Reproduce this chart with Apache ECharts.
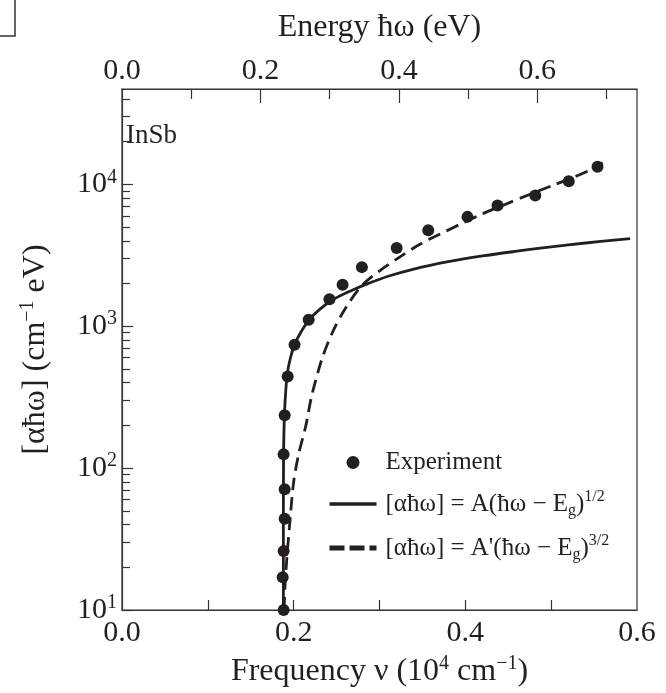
<!DOCTYPE html>
<html>
<head>
<meta charset="utf-8">
<script src="https://cdn.jsdelivr.net/npm/echarts@6/dist/echarts.min.js"></script>
<style>html,body{margin:0;padding:0;background:#fff;}#c{width:666px;height:693px;}</style>
</head>
<body>
<div id="c"></div>
<script>
// ---- data ----
const expFreq = [0.1883, 0.1872, 0.1883, 0.1895, 0.1895, 0.1883, 0.1895, 0.1930, 0.2010, 0.2175, 0.2417, 0.2570, 0.2795, 0.3200, 0.3568, 0.4025, 0.4375, 0.4815, 0.5205, 0.5540];
const expVal  = [10, 17, 26, 44, 71, 125, 236, 442, 740, 1110, 1550, 1960, 2610, 3560, 4750, 5900, 7100, 8350, 10500, 13300];

const solidFreq = [0.1880, 0.1880, 0.1881, 0.1883, 0.1886, 0.1893, 0.1905, 0.1925, 0.1960, 0.2010, 0.2080, 0.2180, 0.2300, 0.2450, 0.2650, 0.2850, 0.3100, 0.3400, 0.3800, 0.4200, 0.4600, 0.5000, 0.5400, 0.5700, 0.5920];
const solidVal  = [10, 40, 80, 130, 170, 240, 330, 460, 590, 740, 900, 1110, 1310, 1530, 1760, 1980, 2250, 2530, 2850, 3130, 3380, 3630, 3860, 4030, 4150];

const dashFreq = [0.1888, 0.1900, 0.1920, 0.1950, 0.2000, 0.2060, 0.2140, 0.2210, 0.2330, 0.2450, 0.2600, 0.2800, 0.3010, 0.3230, 0.3460, 0.3700, 0.3930, 0.4200, 0.4470, 0.4740, 0.5020, 0.5290, 0.5500, 0.5600];
const dashVal  = [10, 15, 23, 38, 80, 127, 197, 323, 590, 900, 1330, 1950, 2480, 3060, 3750, 4450, 5200, 6200, 7250, 8450, 9850, 11400, 13000, 14200];

const xTickLabels = [0.0, 0.2, 0.4, 0.6];
const xTicks = [0.1, 0.2, 0.3, 0.4, 0.5];
const eTickLabels = [0.0, 0.2, 0.4, 0.6];
const eMajorTicks = [0.2, 0.4, 0.6];
const eMinorTicks = [0.1, 0.3, 0.5, 0.7];
const yMajor = [10, 100, 1000, 10000];
const yMinor = [20,30,40,50,60,70,80,90,200,300,400,500,600,700,800,900,2000,3000,4000,5000,6000,7000,8000,9000,20000,30000,40000];

const FREQ_MAX = 0.6;
const E_MAX = 0.744;   // 0.6e4 cm^-1 expressed in eV
const Y_MIN = 10, Y_MAX = 47000;

const FONT = 'Liberation Serif';
const INK = '#231f20';
const AX = '#333';
const TICK_FS = 30, TITLE_FS = 32, SUP_FS = 20, LEG_FS = 25, LEG_SUP = 16;

const chart = echarts.init(document.getElementById('c'), null, {renderer: 'canvas'});

const pair = (xs, ys) => xs.map((x, i) => [x, ys[i]]);

const legendText = {
  'Experiment': '{t|Experiment}',
  'half': '{t|[αħω] = A(ħω − E}{sub|g}{t|)}{sup|1/2}',
  'threehalf': '{t|[αħω] = A\'(ħω − E}{sub|g}{t|)}{sup|3/2}'
};

const titleRich = {
  t: {fontFamily: FONT, fontSize: TITLE_FS, color: INK, lineHeight: 36},
  sup: {fontFamily: FONT, fontSize: SUP_FS, color: INK, verticalAlign: 'top', lineHeight: 20}
};

const option = {
  backgroundColor: '#fff',
  animation: false,
  textStyle: {fontFamily: FONT},
  grid: {left: 122, right: 29, top: 89, bottom: 83, show: true, borderColor: AX, borderWidth: 1.2, backgroundColor: 'transparent'},
  title: {
    text: 'InSb', left: 121, top: 117,
    textStyle: {fontFamily: FONT, fontSize: 27, fontWeight: 'normal', color: INK}
  },
  graphic: [{
    type: 'polyline', shape: {points: [[0, 36], [15, 36], [15, 0]]},
    style: {stroke: AX, lineWidth: 1.5, fill: null}
  }],
  legend: {
    orient: 'vertical', left: 327, top: 450, padding: 0,
    itemWidth: 47, itemHeight: 13, itemGap: 14,
    data: [
      {name: 'Experiment', icon: 'circle', itemStyle: {color: INK, opacity: 1}},
      {name: 'half', itemStyle: {opacity: 0}, lineStyle: {width: 3.5, type: 'solid', color: INK}},
      {name: 'threehalf', itemStyle: {opacity: 0}, lineStyle: {width: 5, type: [15, 5], color: INK}}
    ],
    formatter: n => legendText[n],
    textStyle: {
      fontFamily: FONT, fontSize: LEG_FS, color: INK, padding: [0, 0, 0, 4],
      rich: {
        t: {fontFamily: FONT, fontSize: LEG_FS, color: INK, lineHeight: 30},
        sup: {fontFamily: FONT, fontSize: LEG_SUP, color: INK, verticalAlign: 'top', lineHeight: 17},
        sub: {fontFamily: FONT, fontSize: LEG_SUP, color: INK, verticalAlign: 'bottom', lineHeight: 15}
      }
    }
  },
  xAxis: [
    {
      type: 'value', position: 'bottom', min: 0, max: FREQ_MAX, interval: 0.1,
      axisLine: {show: true, lineStyle: {color: AX, width: 1.2}},
      axisTick: {show: true, inside: true, length: 10, customValues: xTicks, lineStyle: {color: AX, width: 1.2}},
      axisLabel: {customValues: xTickLabels, formatter: v => v.toFixed(1), fontFamily: FONT, fontSize: TICK_FS, color: INK, margin: 8},
      splitLine: {show: false},
      name: '{t|Frequency ν (10}{sup|4}{t| cm}{sup|−1}{t|)}',
      nameLocation: 'middle', nameGap: 44,
      nameTextStyle: {rich: titleRich}
    },
    {
      type: 'value', position: 'top', min: 0, max: E_MAX,
      axisLine: {show: true, lineStyle: {color: AX, width: 1.2}},
      axisTick: {show: true, inside: true, length: 14, customValues: eMajorTicks, lineStyle: {color: AX, width: 1.2}},
      axisLabel: {customValues: eTickLabels, formatter: v => v.toFixed(1), fontFamily: FONT, fontSize: TICK_FS, color: INK, margin: 3},
      splitLine: {show: false},
      name: 'Energy ħω (eV)', nameLocation: 'middle', nameGap: 45,
      nameTextStyle: {fontFamily: FONT, fontSize: TITLE_FS, color: INK}
    },
    {
      type: 'value', position: 'top', min: 0, max: E_MAX,
      axisLine: {show: false},
      axisTick: {show: true, inside: true, length: 10, customValues: eMinorTicks, lineStyle: {color: AX, width: 1.2}},
      axisLabel: {show: false},
      splitLine: {show: false}
    }
  ],
  yAxis: [
    {
      type: 'log', logBase: 10, min: Y_MIN, max: Y_MAX, position: 'left',
      axisLine: {show: true, lineStyle: {color: AX, width: 1.2}},
      axisTick: {show: true, inside: true, length: 11, customValues: yMajor, lineStyle: {color: AX, width: 1.2}},
      axisLabel: {
        customValues: yMajor, margin: 5,
        formatter: v => '{b|10}{s|' + Math.round(Math.log10(v)) + '}',
        rich: {
          b: {fontFamily: FONT, fontSize: TICK_FS, color: INK, lineHeight: 34},
          s: {fontFamily: FONT, fontSize: SUP_FS, color: INK, verticalAlign: 'top', lineHeight: 20}
        }
      },
      splitLine: {show: false},
      name: '{t|[αħω] (cm}{sup|−1}{t| eV)}', nameLocation: 'middle', nameGap: 68, nameRotate: 90,
      nameTextStyle: {rich: titleRich}
    },
    {
      type: 'log', logBase: 10, min: Y_MIN, max: Y_MAX, position: 'left',
      axisLine: {show: false},
      axisTick: {show: true, inside: true, length: 8, customValues: yMinor, lineStyle: {color: AX, width: 1.2}},
      axisLabel: {show: false},
      splitLine: {show: false}
    }
  ],
  series: [
    {
      name: 'half', type: 'line', xAxisIndex: 0, yAxisIndex: 0,
      data: pair(solidFreq, solidVal), smooth: 0.3, symbol: 'none',
      itemStyle: {color: INK},
      lineStyle: {color: INK, width: 2.8, type: 'solid'}, z: 2
    },
    {
      name: 'threehalf', type: 'line', xAxisIndex: 0, yAxisIndex: 0,
      data: pair(dashFreq, dashVal), smooth: 0.3, symbol: 'none',
      itemStyle: {color: INK},
      lineStyle: {color: INK, width: 2.8, type: [13, 7]}, z: 2
    },
    {
      name: 'Experiment', type: 'scatter', xAxisIndex: 0, yAxisIndex: 0,
      data: pair(expFreq, expVal), symbol: 'circle', symbolSize: 12,
      itemStyle: {color: INK, opacity: 1}, z: 3
    }
  ]
};
chart.setOption(option);
</script>
</body>
</html>
